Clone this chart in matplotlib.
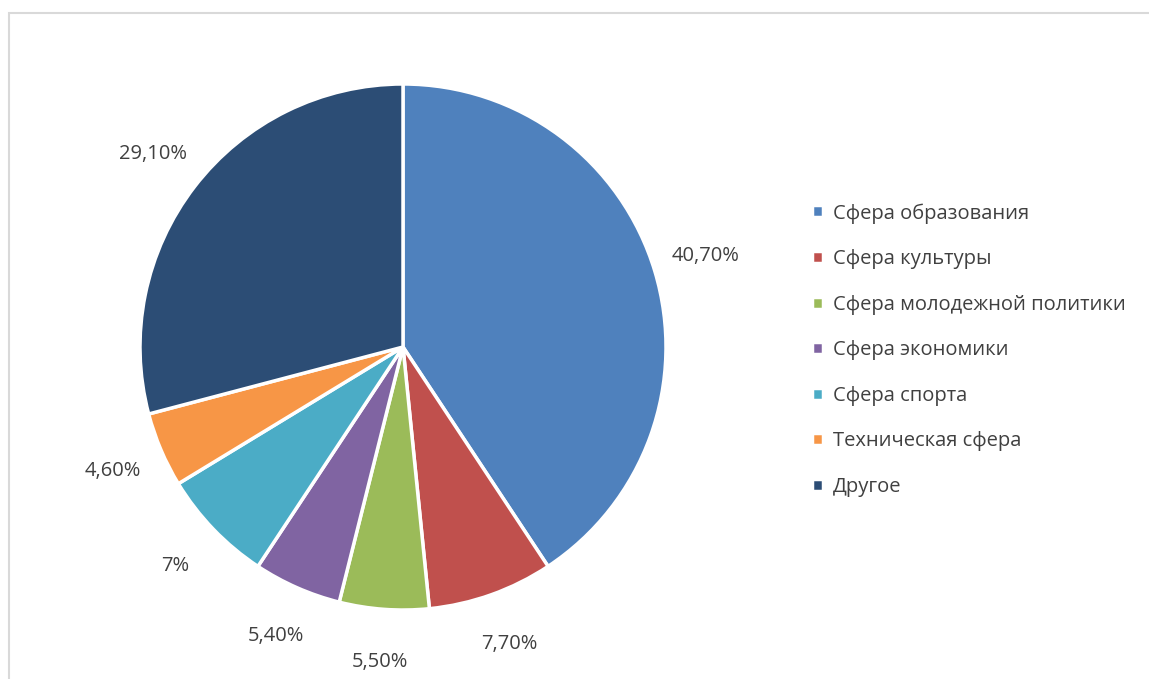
import numpy as np
import matplotlib
matplotlib.use('Agg')
import matplotlib.pyplot as plt
from matplotlib.patches import Rectangle

categories = ['Сфера образования', 'Сфера культуры', 'Сфера молодежной политики',
              'Сфера экономики', 'Сфера спорта', 'Техническая сфера', 'Другое']
values = [40.7, 7.7, 5.5, 5.4, 7.0, 4.6, 29.1]
pct_labels = ['40,70%', '7,70%', '5,50%', '5,40%', '7%', '4,60%', '29,10%']
colors = ['#4F81BD', '#C0504D', '#9BBB59', '#8064A2', '#4BACC6', '#F79646', '#2C4D75']

plt.rcParams['font.family'] = ['Open Sans', 'DejaVu Sans']
text_color = '#404040'

W, H = 1149, 679
fig = plt.figure(figsize=(W / 100, H / 100), dpi=100)

# light grey frame, only top/left edges show in the image
fig.patches.append(Rectangle((9 / W, -0.1), 1.2, (H - 13) / H + 0.1, transform=fig.transFigure,
                             fill=False, edgecolor='#D9D9D9', linewidth=1.5))

cx, cy, r = 403, H - 347, 263
ax = fig.add_axes([(cx - r) / W, (cy - r) / H, 2 * r / W, 2 * r / H])
wedges, _ = ax.pie(values, colors=colors, startangle=90, counterclock=False, radius=1,
                   wedgeprops=dict(edgecolor='white', linewidth=2.5))
ax.set_xlim(-1, 1)
ax.set_ylim(-1, 1)
ax.axis('off')

for w, lab in zip(wedges, pct_labels):
    ang = np.deg2rad((w.theta1 + w.theta2) / 2)
    d = 1.2
    ax.text(d * np.cos(ang), d * np.sin(ang), lab, ha='center', va='center',
            fontsize=14.5, color=text_color)

leg = fig.legend(wedges, categories, loc='upper left', bbox_to_anchor=(802 / W, 1 - 193 / H),
                 frameon=False, fontsize=14.5, handlelength=0.55, handleheight=0.55,
                 handletextpad=0.5, labelspacing=1.27, borderpad=0)
for t in leg.get_texts():
    t.set_color(text_color)

fig.savefig('out.png', dpi=100)
